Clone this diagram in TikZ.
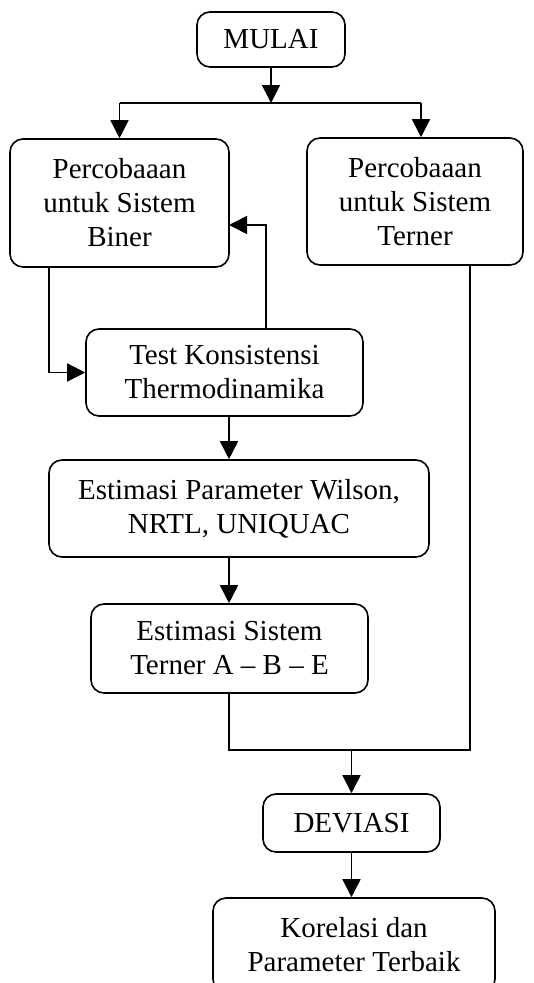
\documentclass[tikz,border=0pt]{standalone}
\usepackage{fontspec}
\setmainfont{Liberation Serif}
\usetikzlibrary{arrows.meta}
\begin{document}
\begin{tikzpicture}[x=1pt,y=-1pt,
  box/.style={draw,line width=1.6pt,rounded corners=13pt,align=center,inner sep=0pt,
    font=\fontsize{29}{34}\selectfont},
  arr/.style={line width=1.6pt,-{Triangle[length=18pt,width=18pt]}},
  ln/.style={line width=1.6pt}]
\useasboundingbox (0,0) rectangle (534,983);
\node[box,minimum width=148pt,minimum height=55pt] (mulai) at (271,39.5) {MULAI};
\node[box,minimum width=219pt,minimum height=128pt] (biner) at (119.5,203) {Percobaaan\\untuk Sistem\\Biner};
\node[box,minimum width=216pt,minimum height=127pt] (terner) at (415,201.5) {Percobaaan\\untuk Sistem\\Terner};
\node[box,minimum width=277pt,minimum height=87pt] (test) at (224.5,372.5) {Test Konsistensi\\Thermodinamika};
\node[box,minimum width=380pt,minimum height=97pt] (param) at (239,508.5) {Estimasi Parameter Wilson,\\NRTL, UNIQUAC};
\node[box,minimum width=277pt,minimum height=89pt] (sistem) at (229.5,648.5) {Estimasi Sistem\\Terner A -- B -- E};
\node[box,minimum width=177pt,minimum height=58pt] (deviasi) at (351.5,823) {DEVIASI};
\node[box,minimum width=282pt,minimum height=94pt] (korelasi) at (354,945) {Korelasi dan\\Parameter Terbaik};
\coordinate (split) at (271,103);
\coordinate (spl) at (119.5,103);
\coordinate (spr) at (421,103);
\coordinate (bl) at (49,267);
\coordinate (fbt) at (266,329);
\coordinate (fb) at (229,225);
\coordinate (ml) at (229,750);
\coordinate (mr) at (470,750);
\coordinate (mm) at (351.5,750);
\draw[arr] (mulai) -- (split);
\draw[ln] (spl) -- (spr);
\draw[arr] (spl) -- (spl |- biner.north);
\draw[arr] (spr) -- (spr |- terner.north);
\draw[arr] (bl) |- (test.west);
\draw[arr] (fbt) |- (fb);
\draw[arr] (test.south -| ml) -- (param.north -| ml);
\draw[arr] (param.south -| ml) -- (sistem.north -| ml);
\draw[ln] (sistem.south -| ml) -- (ml) -- (mr) -- (terner.south -| mr);
\draw[arr] (mm) -- (deviasi.north);
\draw[arr] (deviasi.south) -- (deviasi.south |- korelasi.north);
\end{tikzpicture}
\end{document}
